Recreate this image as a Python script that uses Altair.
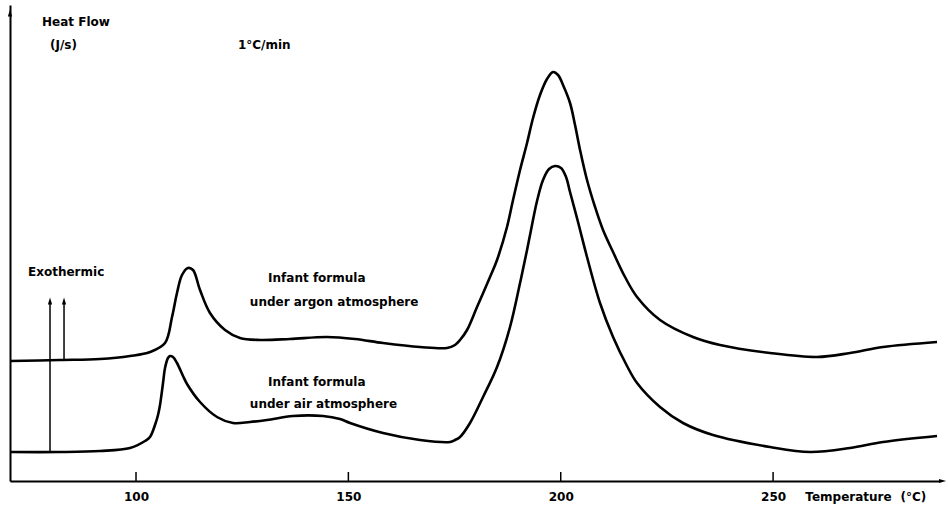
import altair as alt
import pandas as pd

# Temperature (deg C) and heat flow (arbitrary units)
argon_t = [70.33, 82.10, 91.52, 98.59, 103.30, 106.83, 108.48, 109.65, 110.83, 112.24,
           113.42, 115.07, 117.42, 120.96, 124.49, 129.20, 136.26, 144.97, 151.57, 158.16,
           166.87, 173.23, 175.11, 176.29, 177.94, 180.29, 183.35, 185.00, 187.35, 188.77,
           190.42, 192.07, 193.48, 195.12, 196.77, 198.19, 199.37, 200.54, 202.19, 203.37,
           204.55, 206.19, 208.08, 209.96, 212.32, 215.14, 217.97, 223.38, 231.15, 237.51,
           249.28, 260.35, 268.12, 275.89, 288.60]
argon_hf = [120, 121, 122, 125, 129, 138, 164, 188, 206, 213,
            211, 191, 168, 151, 143, 141, 142, 144, 142, 138,
            134, 133, 136, 141, 151, 174, 204, 221, 254, 281,
            311, 338, 363, 386, 402, 409, 406, 396, 378, 356,
            331, 301, 274, 251, 229, 204, 184, 161, 144, 136,
            128, 124, 128, 134, 139]

air_t = [70.33, 82.10, 91.52, 98.59, 102.12, 103.30, 104.47, 105.18, 105.65, 106.36,
         106.83, 107.53, 108.01, 108.71, 109.65, 111.07, 112.01, 115.07, 119.07, 122.84,
         126.84, 130.85, 136.97, 144.03, 148.03, 150.39, 158.16, 166.87, 173.94, 175.11,
         176.29, 178.64, 181.71, 185.00, 188.06, 190.42, 192.07, 192.77, 194.42, 195.83,
         197.25, 198.66, 200.07, 201.25, 202.19, 204.07, 206.19, 209.25, 212.32, 215.61,
         217.97, 223.38, 228.80, 235.86, 249.28, 258.70, 268.12, 275.89, 288.60]
air_hf = [29, 29, 30, 33, 40, 44, 56, 66, 76, 98,
          113, 123, 125, 124, 118, 105, 97, 79, 64, 58,
          59, 61, 65, 65, 62, 58, 48, 41, 39, 41,
          44, 58, 84, 114, 154, 198, 231, 246, 280, 301,
          312, 315, 313, 304, 289, 259, 224, 178, 144, 115,
          98, 74, 58, 46, 34, 29, 33, 39, 45]

tick_values = [100, 150, 200, 250]

# Annotation texts
ann_text = ["Heat Flow", "(J/s)", "1°C/min", "Exothermic",
            "Infant formula", "under argon atmosphere",
            "Infant formula", "under air atmosphere", "Temperature", "(°C)"]
ann_t = [77.87, 79.75, 124.0, 74.57, 131.1, 126.8, 131.1, 126.8, 257.6, 280.0]
ann_hf = [459, 436, 436, 209, 203, 179, 99, 77, -16, -16]

# Exothermic arrows
arrow_t = [79.75, 83.05]
arrow_from = [29, 120]
arrow_to = [178, 178]

X_DOMAIN = [70.33, 289.3]
Y_DOMAIN = [0, 476]

curves = pd.DataFrame(
    {"T": argon_t + air_t,
     "HF": argon_hf + air_hf,
     "series": ["argon"] * len(argon_t) + ["air"] * len(air_t)}
)
ann = pd.DataFrame({"text": ann_text, "T": ann_t, "HF": ann_hf})
arrows = pd.DataFrame({"T": arrow_t, "y1": arrow_from, "y2": arrow_to})
ticks = pd.DataFrame({"T": tick_values, "y1": [0] * 4, "y2": [9] * 4})
heads = pd.DataFrame({"T": arrow_t + [X_DOMAIN[0]], "HF": [180, 180, 468]})
xhead = pd.DataFrame({"T": [X_DOMAIN[1] + 0.6], "HF": [0]})

xs = alt.Scale(domain=X_DOMAIN, nice=False, zero=False)
ys = alt.Scale(domain=Y_DOMAIN, nice=False, zero=False)

FONT = "DejaVu Sans"

lines = alt.Chart(curves).mark_line(color="black", strokeWidth=2.6, interpolate="catmull-rom").encode(
    x=alt.X("T:Q", scale=xs,
            axis=alt.Axis(values=tick_values, title=None, ticks=False, grid=False,
                          domainColor="black", domainWidth=2, labelFont=FONT,
                          labelFontWeight="bold", labelFontSize=12, labelColor="black",
                          labelPadding=10)),
    y=alt.Y("HF:Q", scale=ys,
            axis=alt.Axis(title=None, labels=False, ticks=False, grid=False,
                          domainColor="black", domainWidth=2)),
    detail="series:N",
)

tick_marks = alt.Chart(ticks).mark_rule(color="black", strokeWidth=1.5).encode(
    x=alt.X("T:Q", scale=xs), y=alt.Y("y1:Q", scale=ys), y2="y2:Q")

arrow_lines = alt.Chart(arrows).mark_rule(color="black", strokeWidth=1.5).encode(
    x=alt.X("T:Q", scale=xs), y=alt.Y("y1:Q", scale=ys), y2="y2:Q")

arrow_heads = alt.Chart(heads).mark_point(shape="M-0.6,1L0,-1L0.6,1Z", filled=True, color="black",
                                          size=50, opacity=1).encode(
    x=alt.X("T:Q", scale=xs), y=alt.Y("HF:Q", scale=ys))

x_head = alt.Chart(xhead).mark_point(shape="M-1,-0.6L1,0L-1,0.6Z", filled=True, color="black",
                                     size=50, opacity=1).encode(
    x=alt.X("T:Q", scale=xs), y=alt.Y("HF:Q", scale=ys))

texts = alt.Chart(ann).mark_text(align="left", baseline="middle", font=FONT,
                                 fontWeight="bold", fontSize=12, color="black").encode(
    x=alt.X("T:Q", scale=xs), y=alt.Y("HF:Q", scale=ys), text="text:N")

chart = alt.layer(lines, tick_marks, arrow_lines, arrow_heads, x_head, texts).properties(
    width=930, height=476,
    autosize=alt.AutoSizeParams(type="none"),
    padding={"left": 10, "top": 5, "right": 8, "bottom": 30},
    background="white",
).configure_view(stroke=None)

chart.save("out.html", embed_options={"renderer": "svg", "actions": False})
